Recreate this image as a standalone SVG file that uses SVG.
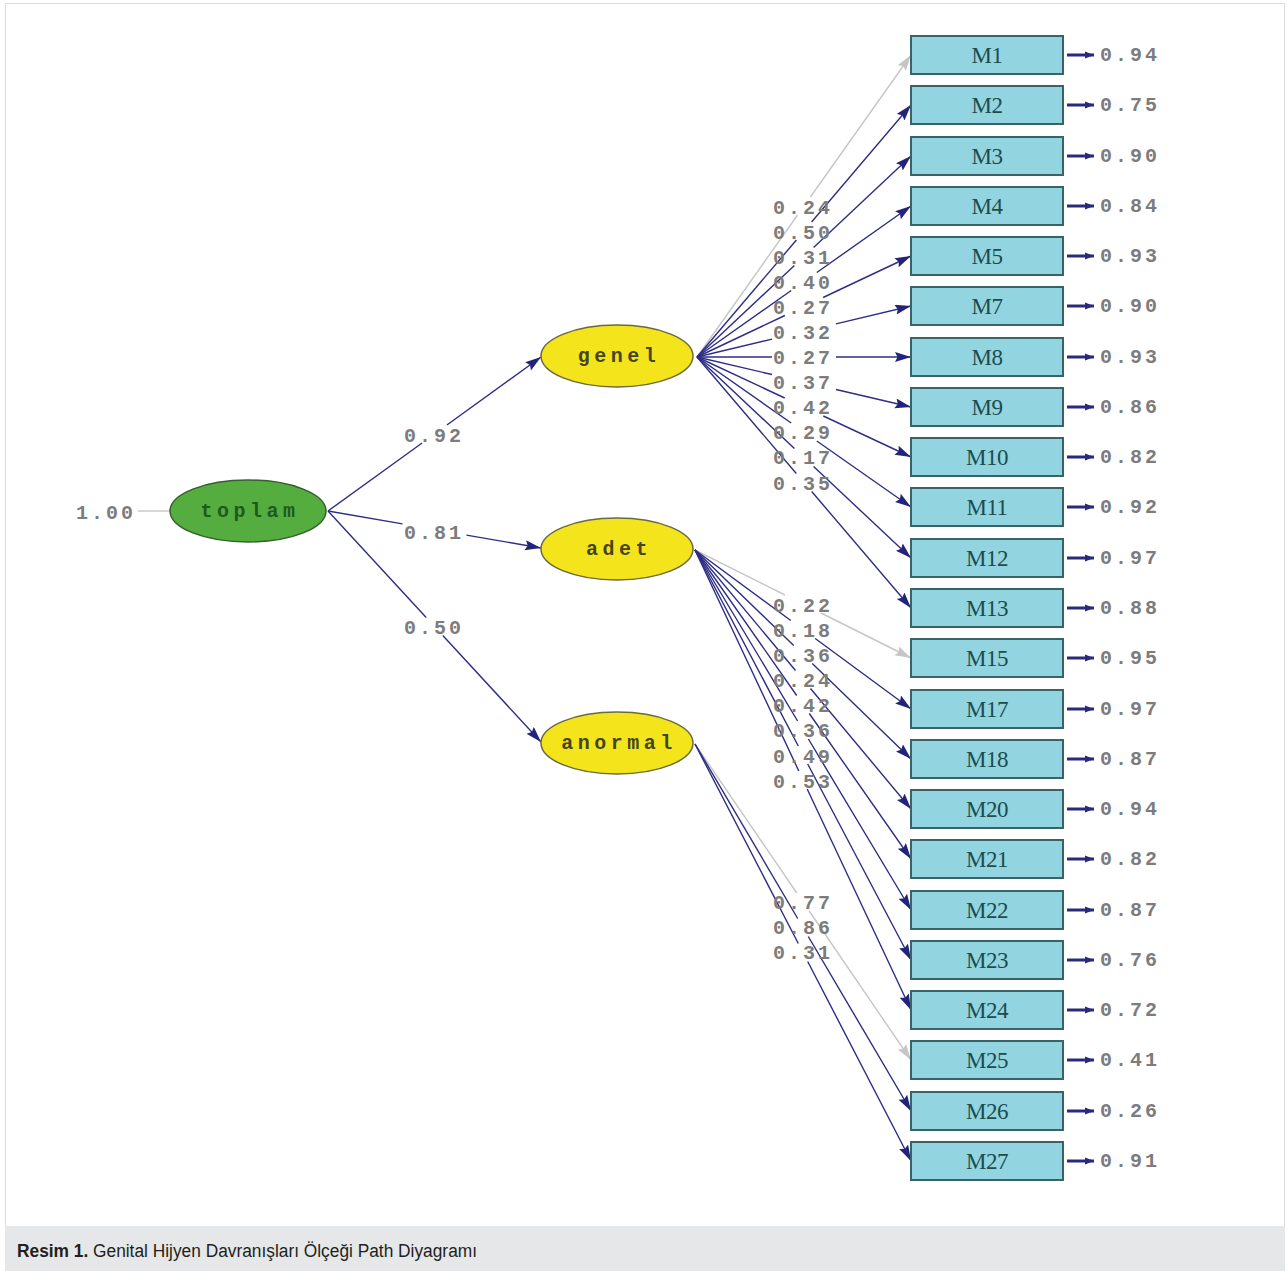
<svg xmlns="http://www.w3.org/2000/svg" width="1288" height="1271" viewBox="0 0 1288 1271">
<style>
.bg{fill:#ffffff}
.frame{fill:none;stroke:#dcdcdc;stroke-width:1}
.cap{fill:#e6e7e8}
.capt{font-family:"Liberation Sans","DejaVu Sans",sans-serif;font-size:18px;fill:#231f20}
.box{fill:#92d4df;stroke:#3a6367;stroke-width:2}
.bt{font-family:"Liberation Serif","DejaVu Serif",serif;font-size:23px;fill:#1c4c50;text-anchor:middle;letter-spacing:-0.5px}
.ell{fill:#f4e41c;stroke:#6a6a40;stroke-width:1.5}
.ellg{fill:#54ad3e;stroke:#34602e;stroke-width:1.5}
.et{font-family:"Liberation Mono","DejaVu Sans Mono",monospace;font-size:20px;font-weight:bold;letter-spacing:4.5px;fill:#45451f;text-anchor:middle}
.etg{fill:#1d5a20}
.num{font-family:"Liberation Mono","DejaVu Sans Mono",monospace;font-size:20px;font-weight:bold;letter-spacing:3px;fill:#7c7c7c}
.nl{text-anchor:middle}
.p{fill:none;stroke:#2e2e86;stroke-width:1.4}
.pg{fill:none;stroke:#c6c6c6;stroke-width:1.4}
.err{fill:none;stroke:#2a2a7c;stroke-width:3}
</style>
<defs>
<marker id="ah" markerUnits="userSpaceOnUse" markerWidth="17" markerHeight="11" refX="16" refY="5" orient="auto"><path d="M0,0 L16,5 L0,10 L2.5,5 z" fill="#23237a"/></marker>
<marker id="ahg" markerUnits="userSpaceOnUse" markerWidth="17" markerHeight="11" refX="16" refY="5" orient="auto"><path d="M0,0 L16,5 L0,10 L2.5,5 z" fill="#c6c6c6"/></marker>
<marker id="ae" markerUnits="userSpaceOnUse" markerWidth="10" markerHeight="10" refX="9" refY="4.5" orient="auto"><path d="M0,1 L9,4.5 L0,8 z" fill="#2a2a7c"/></marker>
</defs>
<rect class="bg" x="0" y="0" width="1288" height="1271"/>
<rect class="frame" x="5.5" y="3.5" width="1279" height="1223"/>
<rect class="cap" x="5" y="1226" width="1280" height="45"/>
<text class="capt" x="17" y="1257" textLength="460" lengthAdjust="spacingAndGlyphs"><tspan font-weight="bold">Resim 1.</tspan> Genital Hijyen Davranışları Ölçeği Path Diyagramı</text>

<g id="connectors">
<line class="pg" x1="138" y1="511" x2="170" y2="511"/>
<path class="p" d="M328,511 L422.1,443 M446.9,425 L541,357" marker-end="url(#ah)"/>
<path class="p" d="M328,511 L402.5,523.9 M466.5,535.1 L541,548" marker-end="url(#ah)"/>
<path class="p" d="M328,511 L426.2,617.5 M442.8,635.5 L541,742" marker-end="url(#ah)"/>
<path class="pg" d="M697,357 L797.6,215 M810.4,197 L911,55" marker-end="url(#ahg)"/>
<path class="p" d="M697,357 L796.4,240 M811.6,222 L911,105" marker-end="url(#ah)"/>
<path class="p" d="M697,357 L794.4,265.5 M813.6,247.5 L911,156" marker-end="url(#ah)"/>
<path class="p" d="M697,357 L791.2,290.5 M816.8,272.5 L911,206" marker-end="url(#ah)"/>
<path class="p" d="M697,357 L784.9,315.5 M823.1,297.5 L911,256" marker-end="url(#ah)"/>
<path class="p" d="M697,357 L772,339.1 M836,323.9 L911,306" marker-end="url(#ah)"/>
<path class="p" d="M697,357 L772,357 M836,357 L911,357" marker-end="url(#ah)"/>
<path class="p" d="M697,357 L772,374.5 M836,389.5 L911,407" marker-end="url(#ah)"/>
<path class="p" d="M697,357 L784.7,398 M823.3,416 L911,457" marker-end="url(#ah)"/>
<path class="p" d="M697,357 L791.2,423 M816.8,441 L911,507" marker-end="url(#ah)"/>
<path class="p" d="M697,357 L794.4,448.5 M813.6,466.5 L911,558" marker-end="url(#ah)"/>
<path class="p" d="M697,357 L796.3,473.5 M811.7,491.5 L911,608" marker-end="url(#ah)"/>
<path class="pg" d="M695,550 L785,595 M821,613 L911,658" marker-end="url(#ahg)"/>
<path class="p" d="M695,550 L790.8,620.5 M815.2,638.5 L911,709" marker-end="url(#ah)"/>
<path class="p" d="M695,550 L793.7,645.5 M812.3,663.5 L911,759" marker-end="url(#ah)"/>
<path class="p" d="M695,550 L795.5,670.5 M810.5,688.5 L911,809" marker-end="url(#ah)"/>
<path class="p" d="M695,550 L796.7,695.5 M809.3,713.5 L911,859" marker-end="url(#ah)"/>
<path class="p" d="M695,550 L797.6,721 M808.4,739 L911,910" marker-end="url(#ah)"/>
<path class="p" d="M695,550 L798.3,746 M807.7,764 L911,960" marker-end="url(#ah)"/>
<path class="p" d="M695,550 L798.8,771 M807.2,789 L911,1010" marker-end="url(#ah)"/>
<path class="pg" d="M695,744 L796.8,893 M809.2,911 L911,1060" marker-end="url(#ahg)"/>
<path class="p" d="M695,744 L797.7,918.5 M808.3,936.5 L911,1111" marker-end="url(#ah)"/>
<path class="p" d="M695,744 L798.3,943.5 M807.7,961.5 L911,1161" marker-end="url(#ah)"/>
<g>
<line class="err" x1="1067" y1="55" x2="1094" y2="55" marker-end="url(#ae)"/>
<line class="err" x1="1067" y1="105" x2="1094" y2="105" marker-end="url(#ae)"/>
<line class="err" x1="1067" y1="156" x2="1094" y2="156" marker-end="url(#ae)"/>
<line class="err" x1="1067" y1="206" x2="1094" y2="206" marker-end="url(#ae)"/>
<line class="err" x1="1067" y1="256" x2="1094" y2="256" marker-end="url(#ae)"/>
<line class="err" x1="1067" y1="306" x2="1094" y2="306" marker-end="url(#ae)"/>
<line class="err" x1="1067" y1="357" x2="1094" y2="357" marker-end="url(#ae)"/>
<line class="err" x1="1067" y1="407" x2="1094" y2="407" marker-end="url(#ae)"/>
<line class="err" x1="1067" y1="457" x2="1094" y2="457" marker-end="url(#ae)"/>
<line class="err" x1="1067" y1="507" x2="1094" y2="507" marker-end="url(#ae)"/>
<line class="err" x1="1067" y1="558" x2="1094" y2="558" marker-end="url(#ae)"/>
<line class="err" x1="1067" y1="608" x2="1094" y2="608" marker-end="url(#ae)"/>
<line class="err" x1="1067" y1="658" x2="1094" y2="658" marker-end="url(#ae)"/>
<line class="err" x1="1067" y1="709" x2="1094" y2="709" marker-end="url(#ae)"/>
<line class="err" x1="1067" y1="759" x2="1094" y2="759" marker-end="url(#ae)"/>
<line class="err" x1="1067" y1="809" x2="1094" y2="809" marker-end="url(#ae)"/>
<line class="err" x1="1067" y1="859" x2="1094" y2="859" marker-end="url(#ae)"/>
<line class="err" x1="1067" y1="910" x2="1094" y2="910" marker-end="url(#ae)"/>
<line class="err" x1="1067" y1="960" x2="1094" y2="960" marker-end="url(#ae)"/>
<line class="err" x1="1067" y1="1010" x2="1094" y2="1010" marker-end="url(#ae)"/>
<line class="err" x1="1067" y1="1060" x2="1094" y2="1060" marker-end="url(#ae)"/>
<line class="err" x1="1067" y1="1111" x2="1094" y2="1111" marker-end="url(#ae)"/>
<line class="err" x1="1067" y1="1161" x2="1094" y2="1161" marker-end="url(#ae)"/>
</g>
<g class="num nl">
<text x="106" y="519">1.00</text>
<text x="434" y="442">0.92</text>
<text x="434" y="539">0.81</text>
<text x="434" y="634">0.50</text>
<text x="803" y="214">0.24</text>
<text x="803" y="239">0.50</text>
<text x="803" y="264">0.31</text>
<text x="803" y="289">0.40</text>
<text x="803" y="314">0.27</text>
<text x="803" y="339">0.32</text>
<text x="803" y="364">0.27</text>
<text x="803" y="389">0.37</text>
<text x="803" y="414">0.42</text>
<text x="803" y="439">0.29</text>
<text x="803" y="464">0.17</text>
<text x="803" y="490">0.35</text>
<text x="803" y="612">0.22</text>
<text x="803" y="637">0.18</text>
<text x="803" y="662">0.36</text>
<text x="803" y="687">0.24</text>
<text x="803" y="712">0.42</text>
<text x="803" y="737">0.36</text>
<text x="803" y="763">0.49</text>
<text x="803" y="788">0.53</text>
<text x="803" y="909">0.77</text>
<text x="803" y="934">0.86</text>
<text x="803" y="959">0.31</text>
</g>
<g class="num">
<text x="1100" y="61">0.94</text>
<text x="1100" y="111">0.75</text>
<text x="1100" y="162">0.90</text>
<text x="1100" y="212">0.84</text>
<text x="1100" y="262">0.93</text>
<text x="1100" y="312">0.90</text>
<text x="1100" y="363">0.93</text>
<text x="1100" y="413">0.86</text>
<text x="1100" y="463">0.82</text>
<text x="1100" y="513">0.92</text>
<text x="1100" y="564">0.97</text>
<text x="1100" y="614">0.88</text>
<text x="1100" y="664">0.95</text>
<text x="1100" y="715">0.97</text>
<text x="1100" y="765">0.87</text>
<text x="1100" y="815">0.94</text>
<text x="1100" y="865">0.82</text>
<text x="1100" y="916">0.87</text>
<text x="1100" y="966">0.76</text>
<text x="1100" y="1016">0.72</text>
<text x="1100" y="1066">0.41</text>
<text x="1100" y="1117">0.26</text>
<text x="1100" y="1167">0.91</text>
</g>
</g>

<g id="toplam"><ellipse class="ellg" cx="248" cy="511" rx="78" ry="31"/><text class="et etg" x="250" y="517">toplam</text></g>
<g id="genel"><ellipse class="ell" cx="617" cy="356" rx="76" ry="31"/><text class="et" x="619" y="362">genel</text></g>
<g id="adet"><ellipse class="ell" cx="617" cy="549" rx="76" ry="31"/><text class="et" x="619" y="555">adet</text></g>
<g id="anormal"><ellipse class="ell" cx="617" cy="743" rx="76" ry="31"/><text class="et" x="619" y="749">anormal</text></g>

<g id="M1"><rect class="box" x="911" y="36" width="152" height="38"/><text class="bt" x="987" y="63">M1</text></g>
<g id="M2"><rect class="box" x="911" y="86" width="152" height="38"/><text class="bt" x="987" y="113">M2</text></g>
<g id="M3"><rect class="box" x="911" y="137" width="152" height="38"/><text class="bt" x="987" y="164">M3</text></g>
<g id="M4"><rect class="box" x="911" y="187" width="152" height="38"/><text class="bt" x="987" y="214">M4</text></g>
<g id="M5"><rect class="box" x="911" y="237" width="152" height="38"/><text class="bt" x="987" y="264">M5</text></g>
<g id="M7"><rect class="box" x="911" y="287" width="152" height="38"/><text class="bt" x="987" y="314">M7</text></g>
<g id="M8"><rect class="box" x="911" y="338" width="152" height="38"/><text class="bt" x="987" y="365">M8</text></g>
<g id="M9"><rect class="box" x="911" y="388" width="152" height="38"/><text class="bt" x="987" y="415">M9</text></g>
<g id="M10"><rect class="box" x="911" y="438" width="152" height="38"/><text class="bt" x="987" y="465">M10</text></g>
<g id="M11"><rect class="box" x="911" y="488" width="152" height="38"/><text class="bt" x="987" y="515">M11</text></g>
<g id="M12"><rect class="box" x="911" y="539" width="152" height="38"/><text class="bt" x="987" y="566">M12</text></g>
<g id="M13"><rect class="box" x="911" y="589" width="152" height="38"/><text class="bt" x="987" y="616">M13</text></g>
<g id="M15"><rect class="box" x="911" y="639" width="152" height="38"/><text class="bt" x="987" y="666">M15</text></g>
<g id="M17"><rect class="box" x="911" y="690" width="152" height="38"/><text class="bt" x="987" y="717">M17</text></g>
<g id="M18"><rect class="box" x="911" y="740" width="152" height="38"/><text class="bt" x="987" y="767">M18</text></g>
<g id="M20"><rect class="box" x="911" y="790" width="152" height="38"/><text class="bt" x="987" y="817">M20</text></g>
<g id="M21"><rect class="box" x="911" y="840" width="152" height="38"/><text class="bt" x="987" y="867">M21</text></g>
<g id="M22"><rect class="box" x="911" y="891" width="152" height="38"/><text class="bt" x="987" y="918">M22</text></g>
<g id="M23"><rect class="box" x="911" y="941" width="152" height="38"/><text class="bt" x="987" y="968">M23</text></g>
<g id="M24"><rect class="box" x="911" y="991" width="152" height="38"/><text class="bt" x="987" y="1018">M24</text></g>
<g id="M25"><rect class="box" x="911" y="1041" width="152" height="38"/><text class="bt" x="987" y="1068">M25</text></g>
<g id="M26"><rect class="box" x="911" y="1092" width="152" height="38"/><text class="bt" x="987" y="1119">M26</text></g>
<g id="M27"><rect class="box" x="911" y="1142" width="152" height="38"/><text class="bt" x="987" y="1169">M27</text></g>
</svg>
